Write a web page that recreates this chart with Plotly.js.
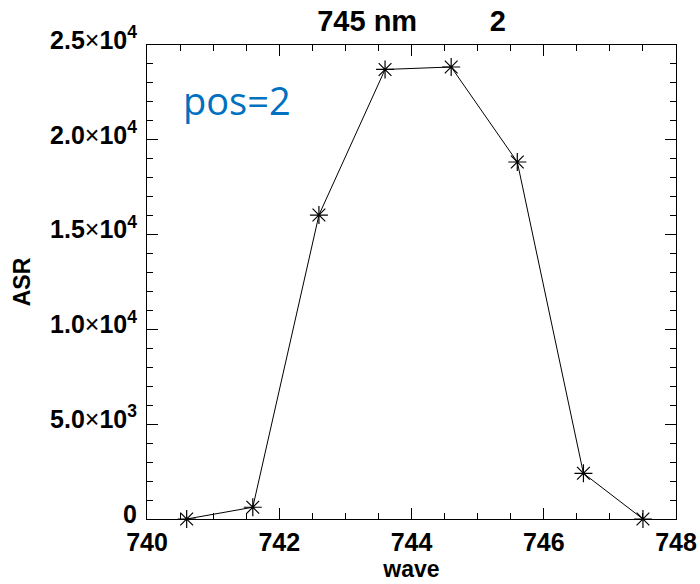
<!DOCTYPE html>
<html>
<head>
<meta charset="utf-8">
<script src="https://cdn.plot.ly/plotly-3.0.1.min.js"></script>
<style>html,body{margin:0;padding:0;background:#fff;}#chart{width:700px;height:584px;}</style>
</head>
<body>
<div id="chart"></div>
<script>
// Data
const wave = [740.6, 741.6, 742.6, 743.6, 744.6, 745.6, 746.6, 747.5];
const asr = [0, 620, 16030, 23710, 23840, 18830, 2410, 0];

const xTickVals = [740, 742, 744, 746, 748];
const xTickText = ['740', '742', '744', '746', '748'];
const yTickVals = [0, 5000, 10000, 15000, 20000, 25000];
const yMant = ['0', '5.0', '1.0', '1.5', '2.0', '2.5'];
const yExp = ['', '3', '4', '4', '4', '4'];
const yTickText = yMant.map((m, i) => yExp[i] ? '<b>' + m + '</b>×<b>10<sup>' + yExp[i] + '</sup></b>' : '<b>' + m + '</b>');

const titleText = '745 nm' + '\u00a0'.repeat(9) + '2';
const posLabel = 'pos=2';

const F = '"Liberation Sans", Arial, Helvetica, sans-serif';

const trace = {
  x: wave, y: asr, type: 'scatter', mode: 'lines+markers',
  line: {color: '#000', width: 1},
  marker: {symbol: 'asterisk-open', size: 15, color: '#000', line: {color: '#000', width: 1.2}},
  cliponaxis: false,
  hoverinfo: 'skip'
};

const layout = {
  width: 700, height: 584,
  margin: {l: 147, r: 24, t: 45, b: 65},
  paper_bgcolor: '#fff', plot_bgcolor: '#fff',
  showlegend: false,
  title: {text: '<b>' + titleText + '</b>', x: 0.5, xref: 'paper', y: 0.965, yref: 'container', xanchor: 'center', yanchor: 'middle',
          font: {family: F, size: 29, color: '#000'}},
  xaxis: {
    range: [740, 748], showgrid: false, zeroline: false,
    showline: true, linecolor: '#000', linewidth: 1, mirror: 'ticks',
    ticks: 'inside', ticklen: 11, tickwidth: 1, tickcolor: '#000',
    tickvals: xTickVals, ticktext: xTickText,
    tickfont: {family: F, size: 25, color: '#000', weight: 'bold'},
    ticklabelstandoff: 1,
    minor: {ticks: 'inside', ticklen: 6, tickwidth: 1, tickcolor: '#000', dtick: 0.5, showgrid: false},
    title: {text: '<b>wave</b>', font: {family: F, size: 23, color: '#000'}, standoff: 2}
  },
  yaxis: {
    range: [0, 25000], showgrid: false, zeroline: false,
    showline: true, linecolor: '#000', linewidth: 1, mirror: 'ticks',
    ticks: 'inside', ticklen: 11, tickwidth: 1, tickcolor: '#000',
    tickvals: yTickVals, ticktext: yTickText,
    tickfont: {family: F, size: 25, color: '#000'},
    ticklabelstandoff: 4,
    ticklabelshift: -5,
    minor: {ticks: 'inside', ticklen: 6, tickwidth: 1, tickcolor: '#000', dtick: 1000, showgrid: false},
    title: {text: '<b>ASR</b>', font: {family: F, size: 23, color: '#000'}, standoff: 13}
  },
  annotations: [{
    text: posLabel, xref: 'paper', yref: 'paper', x: 0.17, y: 0.885,
    xanchor: 'center', yanchor: 'middle', showarrow: false,
    font: {family: '"Open Sans", "Noto Sans", sans-serif', size: 38, color: '#0070C0'}
  }]
};

Plotly.newPlot('chart', [trace], layout, {staticPlot: true, displayModeBar: false});
</script>
</body>
</html>
